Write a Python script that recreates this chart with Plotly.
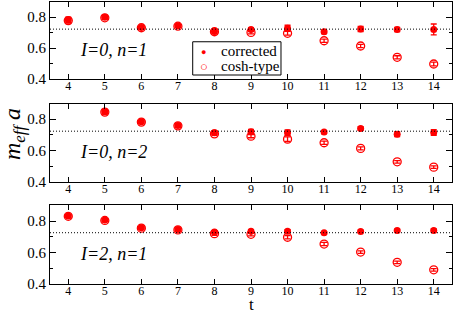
import plotly.graph_objects as go
from plotly.subplots import make_subplots

# ---- data ----
t1 = [4, 5, 6, 7, 8, 9, 10, 11, 12, 13, 14]
corr1 = [0.781, 0.798, 0.733, 0.744, 0.707, 0.720, 0.727, 0.705, 0.723, 0.720, 0.720]
corr1_err = [0.018, 0.012, 0.010, 0.010, 0.015, 0.012, 0.020, 0.012, 0.017, 0.014, 0.035]
cosh1 = [0.777, 0.795, 0.731, 0.741, 0.705, 0.701, 0.695, 0.647, 0.613, 0.540, 0.497]
cosh1_err = [0.014, 0.010, 0.008, 0.008, 0.010, 0.010, 0.012, 0.010, 0.010, 0.010, 0.012]

t2 = [5, 6, 7, 8, 9, 10, 11, 12, 13, 14]
corr2 = [0.847, 0.783, 0.760, 0.713, 0.719, 0.713, 0.717, 0.740, 0.704, 0.715]
corr2_err = [0.015, 0.010, 0.010, 0.012, 0.016, 0.018, 0.010, 0.012, 0.016, 0.018]
cosh2 = [0.845, 0.781, 0.757, 0.706, 0.691, 0.672, 0.649, 0.613, 0.527, 0.493]
cosh2_err = [0.010, 0.008, 0.008, 0.010, 0.010, 0.015, 0.010, 0.010, 0.008, 0.008]

t3 = [4, 5, 6, 7, 8, 9, 10, 11, 12, 13, 14]
corr3 = [0.832, 0.806, 0.757, 0.746, 0.731, 0.735, 0.735, 0.725, 0.734, 0.740, 0.740]
corr3_err = [0.008, 0.008, 0.008, 0.008, 0.008, 0.010, 0.010, 0.007, 0.008, 0.008, 0.010]
cosh3 = [0.830, 0.804, 0.755, 0.744, 0.720, 0.716, 0.697, 0.654, 0.603, 0.538, 0.490]
cosh3_err = [0.008, 0.008, 0.008, 0.008, 0.010, 0.010, 0.010, 0.010, 0.008, 0.008, 0.008]

plateaus = [0.722, 0.723, 0.726]
panel_labels = ["I=0, n=1", "I=0, n=2", "I=2, n=1"]
legend_names = ["corrected", "cosh-type"]
x_ticks = [4, 5, 6, 7, 8, 9, 10, 11, 12, 13, 14]
y_ticks = [0.4, 0.6, 0.8]

panels = [
    (t1, corr1, corr1_err, cosh1, cosh1_err),
    (t2, corr2, corr2_err, cosh2, cosh2_err),
    (t3, corr3, corr3_err, cosh3, cosh3_err),
]

RED = "#ff0000"
FONT = "Liberation Serif, Times New Roman, Times, serif"

fig = make_subplots(rows=3, cols=1)

for i, (t, c, ce, h, he) in enumerate(panels):
    row = i + 1
    fig.add_trace(go.Scatter(
        x=t, y=h, mode="markers", name=legend_names[1],
        marker=dict(symbol="circle-open", size=8, color=RED, line=dict(width=1.3, color=RED)),
        error_y=dict(type="data", array=he, color=RED, thickness=1.3, width=3),
        showlegend=False,
    ), row=row, col=1)
    fig.add_trace(go.Scatter(
        x=t, y=c, mode="markers", name=legend_names[0],
        marker=dict(symbol="circle", size=7, color=RED),
        error_y=dict(type="data", array=ce, color=RED, thickness=1.3, width=3),
        showlegend=False,
    ), row=row, col=1)

domains = [(0.7244, 0.998), (0.3615, 0.6378), (0.0, 0.278)]

for i in range(3):
    ax = "" if i == 0 else str(i + 1)
    fig.update_layout(**{
        f"xaxis{ax}": dict(
            domain=[0, 1], automargin=False,
            range=[3.5, 14.5], tickvals=x_ticks, ticks="inside", ticklen=5,
            tickcolor="black", showline=True, linecolor="black", linewidth=1,
            mirror="allticks", showgrid=False, zeroline=False, ticklabelstandoff=-4,
            tickfont=dict(family=FONT, size=12, color="black"),
        ),
        f"yaxis{ax}": dict(
            domain=list(domains[i]), automargin=False, range=[0.4, 0.9], tickvals=y_ticks,
            ticks="inside", ticklen=6, tickcolor="black", showline=True,
            linecolor="black", linewidth=1, mirror="allticks", showgrid=False,
            zeroline=False, tickfont=dict(family=FONT, size=15, color="black"),
            minor=dict(tickvals=[0.5, 0.7], ticks="inside", ticklen=3, tickcolor="black"),
        ),
    })
    xref = "x" if i == 0 else f"x{i + 1}"
    yref = "y" if i == 0 else f"y{i + 1}"
    fig.add_shape(type="line", xref=f"{xref} domain", yref=yref, x0=0, x1=1,
                  y0=plateaus[i], y1=plateaus[i],
                  line=dict(color="black", width=1, dash="1px,2px"))
    fig.add_annotation(x=5.25, y=0.59, xref=xref, yref=yref, text=panel_labels[i],
                       showarrow=False, xanchor="center", yanchor="middle",
                       font=dict(family=FONT, size=18, color="black", style="italic"))

# legend box (manual, compact like the original)
fig.add_shape(type="rect", xref="paper", yref="paper", x0=0.355, x1=0.5746,
              y0=0.7385, y1=0.856, line=dict(color="black", width=1), fillcolor="white",
              layer="above")
leg_y = [0.8216, 0.7703]
fig.add_annotation(x=0.383, y=leg_y[0], xref="paper", yref="paper", text="●",
                   xanchor="center", yanchor="middle",
                   showarrow=False, font=dict(size=9, color=RED))
fig.add_annotation(x=0.383, y=leg_y[1], xref="paper", yref="paper", text="○",
                   xanchor="center", yanchor="middle",
                   showarrow=False, font=dict(size=13, color=RED))
for k in range(2):
    fig.add_annotation(x=0.421, y=leg_y[k], xref="paper", yref="paper", text=legend_names[k],
                       xanchor="left", yanchor="middle", showarrow=False,
                       font=dict(family=FONT, size=15, color="black"))

fig.add_annotation(x=0.5, y=0, xref="paper", yref="paper", text="t", showarrow=False,
                   xanchor="center", yanchor="top", yshift=-9,
                   font=dict(family=FONT, size=17, color="black"))
fig.add_annotation(x=0, y=0.53, xref="paper", yref="paper", xshift=-36,
                   xanchor="center", yanchor="middle",
                   text="m<sub>eff</sub> a", textangle=-90, showarrow=False,
                   font=dict(family=FONT, size=24, color="black", style="italic"))

fig.update_layout(
    width=455, height=311,
    margin=dict(l=50, r=3, t=1, b=27, autoexpand=False),
    paper_bgcolor="white", plot_bgcolor="white",
    showlegend=False,
)

fig.write_html("out.html", config={"displayModeBar": False},
               post_script="document.body.style.margin='0';document.body.style.overflow='hidden';")
